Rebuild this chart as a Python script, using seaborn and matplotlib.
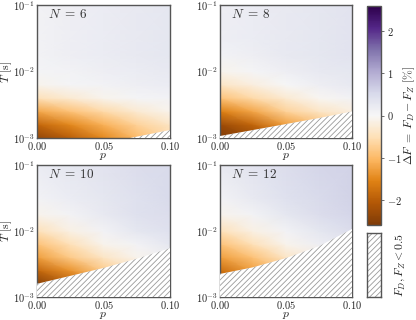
import numpy as np
import matplotlib
matplotlib.use("Agg")
import matplotlib.pyplot as plt
import seaborn as sns
from matplotlib.ticker import FuncFormatter, FixedLocator, LogLocator, NullFormatter
from matplotlib.colors import Normalize

sns.set_style("ticks")
plt.rcParams["font.family"] = ["DejaVu Serif"]
plt.rcParams["mathtext.fontset"] = "cm"
plt.rcParams["hatch.linewidth"] = 0.6

# ---- data ----
p_vals = [0.0, 0.025, 0.05, 0.075, 0.1]
log10_T = [-3.0, -2.8, -2.6, -2.4, -2.2, -2.0, -1.75, -1.5, -1.0]
N_values = [6, 8, 10, 12]

dF_N6 = [
    [-2.4, -2.0, -1.5, -1.0, -0.6],
    [-1.9, -1.5, -1.1, -0.7, -0.4],
    [-1.2, -0.9, -0.6, -0.3, -0.1],
    [-0.5, -0.3, -0.1, 0.05, 0.1],
    [-0.1, 0.05, 0.1, 0.15, 0.2],
    [0.05, 0.1, 0.15, 0.2, 0.25],
    [0.1, 0.15, 0.2, 0.25, 0.3],
    [0.1, 0.15, 0.2, 0.25, 0.3],
    [0.1, 0.15, 0.2, 0.25, 0.3],
]
dF_N8 = [
    [-2.6, -2.4, -2.0, -1.6, -1.2],
    [-2.3, -1.9, -1.3, -0.9, -0.6],
    [-1.6, -1.2, -0.7, -0.4, -0.2],
    [-0.9, -0.6, -0.3, -0.05, 0.1],
    [-0.4, -0.2, 0.0, 0.15, 0.25],
    [-0.1, 0.05, 0.15, 0.25, 0.3],
    [0.1, 0.15, 0.25, 0.3, 0.35],
    [0.15, 0.2, 0.25, 0.3, 0.35],
    [0.15, 0.2, 0.25, 0.3, 0.35],
]
dF_N10 = [
    [-2.6, -2.4, -2.0, -1.6, -1.2],
    [-2.5, -2.0, -1.4, -0.9, -0.5],
    [-1.9, -1.4, -0.8, -0.4, -0.1],
    [-1.3, -0.8, -0.4, -0.1, 0.1],
    [-0.9, -0.5, -0.1, 0.1, 0.3],
    [-0.5, -0.15, 0.1, 0.3, 0.4],
    [-0.1, 0.1, 0.25, 0.4, 0.45],
    [0.1, 0.2, 0.3, 0.4, 0.5],
    [0.2, 0.3, 0.35, 0.45, 0.5],
]
dF_N12 = [
    [-2.0, -1.8, -1.4, -1.0, -0.6],
    [-2.0, -1.6, -1.2, -0.8, -0.4],
    [-1.8, -1.3, -0.8, -0.4, -0.1],
    [-1.3, -0.9, -0.4, -0.1, 0.1],
    [-0.9, -0.5, -0.1, 0.15, 0.3],
    [-0.5, -0.15, 0.1, 0.3, 0.45],
    [-0.1, 0.1, 0.3, 0.45, 0.55],
    [0.1, 0.25, 0.4, 0.5, 0.6],
    [0.25, 0.35, 0.45, 0.55, 0.6],
]
# boundary (log10 T) below which F_D, F_Z < 0.5, at p_vals
bound_N6 = [-3.28, -3.18, -3.08, -2.98, -2.88]
bound_N8 = [-2.97, -2.88, -2.79, -2.70, -2.60]
bound_N10 = [-2.80, -2.68, -2.56, -2.42, -2.26]
bound_N12 = [-2.65, -2.55, -2.41, -2.23, -1.97]

fields = [dF_N6, dF_N8, dF_N10, dF_N12]
bounds = [bound_N6, bound_N8, bound_N10, bound_N12]
x_ticks = [0.0, 0.05, 0.1]
y_ticks = [1e-3, 1e-2, 1e-1]
cbar_ticks = [-2, -1, 0, 1, 2]

# ---- figure ----
W, H = 416, 320
fig = plt.figure(figsize=(W / 100, H / 100), dpi=100)

def rect(x0, y0, x1, y1):
    return [x0 / W, 1 - y1 / H, (x1 - x0) / W, (y1 - y0) / H]

positions = [rect(37, 5, 170, 138), rect(220, 5, 352, 138),
             rect(37, 165, 170, 297), rect(220, 165, 352, 297)]

cmap = sns.color_palette("PuOr", as_cmap=True)
norm = Normalize(vmin=-2.6, vmax=2.6)
spine_col = "#555555"
hatch_col = "#9a9a9a"
TICK_FS = 7.5
LAB_FS = 8.5

P, L = np.meshgrid(np.array(p_vals), np.array(log10_T))
mesh = None
for i, (N, Z, B) in enumerate(zip(N_values, fields, bounds)):
    ax = fig.add_axes(positions[i])
    mesh = ax.pcolormesh(P, 10 ** L, np.array(Z), cmap=cmap, norm=norm,
                         shading="gouraud", rasterized=True)
    ax.set_yscale("log")
    ax.fill_between(p_vals, 1e-4, 10 ** np.array(B), facecolor="white",
                    edgecolor=hatch_col, hatch="//////", linewidth=0, zorder=3)
    ax.set_xlim(0, 0.1)
    ax.set_ylim(1e-3, 1e-1)
    ax.xaxis.set_major_locator(FixedLocator(x_ticks))
    ax.xaxis.set_major_formatter(FuncFormatter(lambda v, pos: f"${v:.2f}$"))
    ax.yaxis.set_major_locator(FixedLocator(y_ticks))
    ax.yaxis.set_major_formatter(
        FuncFormatter(lambda v, pos: f"$10^{{{int(round(np.log10(v)))}}}$"))
    ax.yaxis.set_minor_locator(LogLocator(base=10, subs=np.arange(2, 10)))
    ax.yaxis.set_minor_formatter(NullFormatter())
    ax.tick_params(which="both", direction="in", color=spine_col,
                   labelsize=TICK_FS, pad=1.5)
    ax.tick_params(which="major", length=2.5, width=0.6)
    ax.tick_params(which="minor", length=1.5, width=0.5)
    for s in ax.spines.values():
        s.set_color(spine_col)
        s.set_linewidth(1.0)
    ax.set_xlabel("$p$", fontsize=LAB_FS, labelpad=-2)
    if i % 2 == 0:
        ax.set_ylabel(r"$T\ [\mathrm{s}]$", fontsize=LAB_FS, labelpad=-1)
    ax.text(0.08, 0.925, rf"$N\;=\;{N}$", transform=ax.transAxes, fontsize=9.5,
            ha="left", va="center", color="#333333", zorder=5)

# colorbar
cax = fig.add_axes(rect(367, 6, 381, 225))
cb = fig.colorbar(mesh, cax=cax, ticks=cbar_ticks)
cb.ax.yaxis.set_major_formatter(FuncFormatter(lambda v, pos: f"${int(v)}$"))
cb.ax.tick_params(labelsize=TICK_FS, length=2.5, width=0.6, color=spine_col, pad=1.5)
cb.outline.set_edgecolor(spine_col)
cb.outline.set_linewidth(1.0)
cb.set_label(r"$\Delta F\;=\;F_D - F_Z\ [\%]$", fontsize=LAB_FS, labelpad=0)

# hatch legend box
hax = fig.add_axes(rect(367, 233, 381, 297))
hax.fill_between([0, 1], 0, 1, facecolor="white", edgecolor=hatch_col,
                 hatch="//////", linewidth=0)
hax.set_xlim(0, 1)
hax.set_ylim(0, 1)
hax.set_xticks([])
hax.set_yticks([])
for s in hax.spines.values():
    s.set_color(spine_col)
    s.set_linewidth(1.0)
hax.yaxis.set_label_position("right")
hax.set_ylabel(r"$F_D, F_Z < 0.5$", fontsize=LAB_FS, labelpad=9)

fig.savefig("out.png", dpi=100)
